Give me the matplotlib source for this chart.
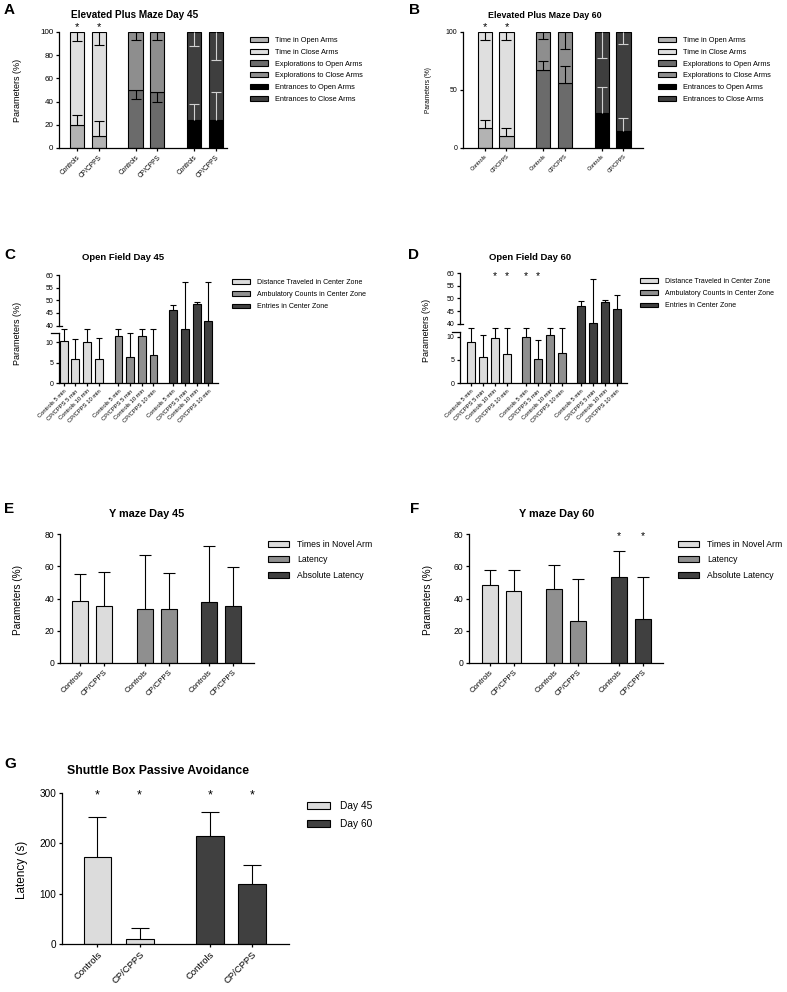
import numpy as np
import matplotlib
matplotlib.use("Agg")
import matplotlib.pyplot as plt
from matplotlib.patches import Patch

plt.rcParams['font.family'] = ['Liberation Sans', 'DejaVu Sans']

# ---------------- DATA ----------------
groups2 = ["Controls", "CP/CPPS"]
of_labels = ["Controls 5 min", "CP/CPPS 5 min", "Controls 10 min", "CP/CPPS 10 min"]

# Elevated plus maze (stacked, % of total) - order: Time, Explorations, Entrances x (Controls, CP/CPPS)
epm_legend = ["Time in Open Arms", "Time in Close Arms", "Explorations to Open Arms",
              "Explorations to Close Arms", "Entrances to Open Arms", "Entrances to Close Arms"]
epm45_open = [20, 10, 50, 48, 24.5, 24]
epm45_open_err = [8.6, 13, -7.7, -8, 13.2, 24.6]      # sign = drawing direction
epm45_close_err = [8, 11.4, 7, 7, 12.3, 24.3]
epm60_open = [17.5, 10, 67.5, 56, 30.5, 15]
epm60_open_err = [6.5, 7.4, 7.1, 14.3, 22, 10.7]
epm60_close_err = [6.6, 7.1, 6.3, 14.6, 22, 10]
epm45_stars = [True, True, False, False, False, False]
epm60_stars = [True, True, False, False, False, False]

# Open field (%)
of_legend = ["Distance Traveled in Center Zone", "Ambulatory Counts in Center Zone", "Entries in Center Zone"]
of45_dist = [10.2, 5.8, 9.9, 5.8]
of45_dist_err = [16, 5.0, 16.3, 5.2]
of45_amb = [11.5, 6.4, 11.4, 6.9]
of45_amb_err = [14.7, 5.9, 14.8, 19.3]
of45_ent = [46.3, 26, 48.5, 41.9]
of45_ent_err = [2.0, 31.3, 1.0, 15.4]
of60_dist = [8.85, 5.6, 9.7, 6.3]
of60_dist_err = [16.6, 4.7, 15.8, 19.2]
of60_amb = [9.9, 5.1, 10.4, 6.5]
of60_amb_err = [15.6, 4.25, 15.1, 19.0]
of60_ent = [47.2, 40.3, 48.6, 45.7]
of60_ent_err = [1.6, 17.5, 0.9, 5.6]
of60_stars = [[False, False, True, True], [True, True, False, False], [False, False, False, False]]

# Y maze (%)
ym_legend = ["Times in Novel Arm", "Latency", "Absolute Latency"]
ym45_vals = [[38.3, 35.2], [33.6, 33.6], [37.8, 35.1]]
ym45_err = [[16.8, 21.3], [33.6, 22.5], [34.8, 24.2]]
ym60_vals = [[48.2, 44.4], [46.2, 26.3], [53.3, 27.4]]
ym60_err = [[9.6, 13.4], [14.3, 25.7], [16.3, 26.2]]
ym60_stars = [[False, False], [False, False], [True, True]]

# Shuttle box (s)
sb_legend = ["Day 45", "Day 60"]
sb_vals = [[173, 10.5], [215, 120]]
sb_err = [[80, 22], [48, 36]]
sb_stars = [[True, True], [True, True]]

# ---------------- STYLE ----------------
W, H = 787, 992
LIGHT, MED, DARK = '#dcdcdc', '#8f8f8f', '#404040'
EPM_COLORS = ['#b3b3b3', '#dfdfdf', '#6b6b6b', '#8e8e8e', '#000000', '#3e3e3e']
EDGE_LW = 0.8

fig = plt.figure(figsize=(W / 100, H / 100), dpi=100)


def add_ax(x0, y0, x1, y1):
    """pixel box: left, top, right, bottom"""
    return fig.add_axes([x0 / W, 1 - y1 / H, (x1 - x0) / W, (y1 - y0) / H])


def style_ax(ax, tick_fs, lw=0.9):
    for s in ['top', 'right']:
        ax.spines[s].set_visible(False)
    for s in ['left', 'bottom']:
        ax.spines[s].set_linewidth(lw)
    ax.tick_params(direction='out', length=2.5, width=lw, labelsize=tick_fs, pad=1.5)


def err_bars(ax, x, base, err, capw, color='black', lw=0.8):
    x = np.asarray(x, float)
    base = np.asarray(base, float)
    err = np.asarray(err, float)
    ax.vlines(x, base, base + err, colors=color, lw=lw, zorder=4)
    ax.plot(x, base + err, linestyle='none', marker='_', ms=capw, mew=lw, color=color, zorder=4)


def star(ax, x, y, center_px, fs):
    """star glyph centred center_px pixels above data point (x, y)"""
    em = fs * 100 / 72
    ax.annotate('*', (x, y), xytext=(0, center_px - 0.57 * em), textcoords='offset pixels',
                ha='center', va='baseline', fontsize=fs, annotation_clip=False)


def fig_text(x, y, s, **kw):
    fig.text(x / W, 1 - y / H, s, **kw)


def legend(ax, handles, labels, x, y, fs, spacing, hl=2.4, hh=0.7):
    ax.legend(handles, labels, loc='upper left', bbox_to_anchor=(x / W, 1 - y / H),
              bbox_transform=fig.transFigure, frameon=False, fontsize=fs,
              handlelength=hl, handleheight=hh, handletextpad=1.0,
              labelspacing=spacing, borderaxespad=0, borderpad=0)


def patch(c):
    return Patch(facecolor=c, edgecolor='black', linewidth=EDGE_LW)


# ---------------- EPM panels ----------------
def epm_panel(box, open_v, open_e, close_e, stars, xlim, yticks, fs, title, tfs, tpos,
              leg_xy, leg_fs, ylab_xy, ylab_fs, xt_fs, star_px, letter, lpos, gap=2.69):
    ax = add_ax(*box)
    style_ax(ax, fs)
    pos = [g * gap + i for g in range(3) for i in range(2)]
    open_v = np.asarray(open_v, float)
    for k, x in enumerate(pos):
        g = k // 2
        ax.bar(x, open_v[k], width=0.66, color=EPM_COLORS[2 * g], edgecolor='black', lw=EDGE_LW, zorder=2)
        ax.bar(x, 100 - open_v[k], bottom=open_v[k], width=0.66, color=EPM_COLORS[2 * g + 1],
               edgecolor='black', lw=EDGE_LW, zorder=2)
        ec = '#d0d0d0' if g == 2 else 'black'
        err_bars(ax, [x], [open_v[k]], [open_e[k]], 7, color=ec)
        err_bars(ax, [x], [100], [-close_e[k]], 7, color=ec)
        if stars[k]:
            star(ax, x, 100, star_px, 8)
    ax.set_xlim(*xlim)
    ax.set_ylim(0, 100)
    ax.set_yticks(yticks)
    ax.set_xticks(pos)
    ax.set_xticklabels(groups2 * 3, rotation=45, ha='right', rotation_mode='anchor', fontsize=xt_fs)
    fig_text(*tpos, title, ha='center', va='baseline', fontsize=tfs, fontweight='bold')
    fig_text(*ylab_xy, 'Parameters (%)', rotation=90, ha='center', va='center', fontsize=ylab_fs)
    fig_text(*lpos, letter, fontsize=11, fontweight='bold', ha='left', va='top')
    legend(ax, [patch(c) for c in EPM_COLORS], epm_legend, *leg_xy, leg_fs, 0.62)
    return ax


epm_panel((59, 32, 227, 148), epm45_open, epm45_open_err, epm45_close_err, epm45_stars,
          (-0.83, 6.9), [0, 20, 40, 60, 80, 100], 5.8, 'Elevated Plus Maze Day 45', 7.2, (135, 17.7),
          (250, 37), 5.3, (17, 90), 6.5, 4.8, 8.5, 'A', (4, 3))
epm_panel((463, 32, 643, 148), epm60_open, epm60_open_err, epm60_close_err, epm60_stars,
          (-1.0, 7.28), [0, 50, 100], 5.0, 'Elevated Plus Maze Day 60', 6.4, (545, 17.5),
          (658, 37), 5.3, (428, 90), 4.7, 4.0, 8, 'B', (409, 3))


# ---------------- Open field panels (broken axis) ----------------
def broken(b1, lo_px, gap_px, hi_px, b2=40.0):
    u1 = b1 * lo_px
    u2 = u1 + gap_px

    def fwd(v):
        v = np.asarray(v, float)
        return np.where(v <= b1, v * lo_px,
                        np.where(v < b2, u1 + (v - b1) / (b2 - b1) * gap_px, u2 + (v - b2) * hi_px))

    def inv(u):
        u = np.asarray(u, float)
        return np.where(u <= u1, u / lo_px,
                        np.where(u < u2, b1 + (u - u1) / gap_px * (b2 - b1), b2 + (u - u2) / hi_px))
    return fwd, inv


def of_panel(box, series, errs, stars, xlim, gap, scale, b1, title, tpos, leg_xy, ylab_xy, letter, lpos):
    ax = add_ax(*box)
    style_ax(ax, 5.0)
    fwd, inv = broken(*scale)
    ax.set_yscale('function', functions=(fwd, inv))
    colors = [LIGHT, MED, DARK]
    allpos = []
    for g, (vals, er) in enumerate(zip(series, errs)):
        pos = [g * gap + i for i in range(4)]
        allpos += pos
        ax.bar(pos, vals, width=0.68, color=colors[g], edgecolor='black', lw=EDGE_LW, zorder=2)
        err_bars(ax, pos, vals, er, 5)
        for x, s in zip(pos, stars[g]):
            if s:
                star(ax, x, 60, 0, 7.5)
    ax.set_xlim(*xlim)
    ax.set_ylim(0, 60)
    ax.set_yticks([0, 5, 10, 40, 45, 50, 55, 60])
    ax.spines['left'].set_bounds(0, b1)
    yt = ax.get_yaxis_transform()
    ax.plot([0, 0], [40, 60], transform=yt, color='black', lw=0.9, clip_on=False)
    ax.plot([-0.05, 0], [b1, b1], transform=yt, color='black', lw=0.9, clip_on=False)
    ax.plot([0, 0.02], [40, 40], transform=yt, color='black', lw=0.9, clip_on=False)
    ax.set_xticks(allpos)
    ax.set_xticklabels(of_labels * 3, rotation=45, ha='right', rotation_mode='anchor', fontsize=4.2)
    fig_text(*tpos, title, ha='center', va='center', fontsize=6.8, fontweight='bold')
    fig_text(*ylab_xy, 'Parameters (%)', rotation=90, ha='center', va='center', fontsize=6.5)
    fig_text(*lpos, letter, fontsize=11, fontweight='bold', ha='left', va='top')
    legend(ax, [patch(c) for c in colors], of_legend, *leg_xy, 5.0, 0.75, hl=2.6)


of_panel((59, 275, 218, 383), [of45_dist, of45_amb, of45_ent], [of45_dist_err, of45_amb_err, of45_ent_err],
         [[False] * 4] * 3, (-0.4, 13.23), 4.7, (12.3, 4.1, 7.0, 2.53), 12.3,
         'Open Field Day 45', (123, 258), (232, 279), (17, 333), 'C', (4, 248))
of_panel((460, 273, 627, 383), [of60_dist, of60_amb, of60_ent], [of60_dist_err, of60_amb_err, of60_ent_err],
         of60_stars, (-0.89, 13.05), 4.61, (11.0, 4.63, 8.0, 2.53), 11.0,
         'Open Field Day 60', (530, 258), (640, 278), (427, 330), 'D', (408, 248))


# ---------------- Y maze / shuttle box panels ----------------
def simple_panel(box, vals, errs, stars, legend_labels, colors, xlim, gap, yticks, ylim, tick_fs, xt_fs,
                 title, tfs, tpos, leg_xy, leg_fs, leg_sp, ylab, ylab_xy, ylab_fs, capw, star_px, star_fs,
                 letter, lpos, hl=2.4):
    ax = add_ax(*box)
    style_ax(ax, tick_fs)
    allpos = []
    for g in range(len(vals)):
        pos = [g * gap + i for i in range(len(vals[g]))]
        allpos += pos
        ax.bar(pos, vals[g], width=0.66, color=colors[g], edgecolor='black', lw=EDGE_LW, zorder=2)
        err_bars(ax, pos, vals[g], errs[g], capw)
        for x, s in zip(pos, stars[g]):
            if s:
                star(ax, x, ylim[1], star_px, star_fs)
    ax.set_xlim(*xlim)
    ax.set_ylim(*ylim)
    ax.set_yticks(yticks)
    ax.set_xticks(allpos)
    ax.set_xticklabels(groups2 * len(vals), rotation=45, ha='right', rotation_mode='anchor', fontsize=xt_fs)
    fig_text(*tpos, title, ha='center', va='center', fontsize=tfs, fontweight='bold')
    fig_text(*ylab_xy, ylab, rotation=90, ha='center', va='center', fontsize=ylab_fs)
    fig_text(*lpos, letter, fontsize=11, fontweight='bold', ha='left', va='top')
    legend(ax, [patch(c) for c in colors], legend_labels, *leg_xy, leg_fs, leg_sp, hl=hl)


simple_panel((60, 534, 254, 663), ym45_vals, ym45_err, [[False, False]] * 3, ym_legend, [LIGHT, MED, DARK],
             (-0.85, 7.24), 2.68, [0, 20, 40, 60, 80], (0, 80), 6.2, 5.6,
             'Y maze Day 45', 7.8, (147, 514), (268, 540), 6.2, 0.75, 'Parameters (%)', (18, 600), 7.2, 8,
             1.3, 7.5, 'E', (4, 502))
simple_panel((469, 534, 663, 663), ym60_vals, ym60_err, ym60_stars, ym_legend, [LIGHT, MED, DARK],
             (-0.86, 7.24), 2.7, [0, 20, 40, 60, 80], (0, 80), 6.2, 5.6,
             'Y maze Day 60', 7.8, (557, 514), (678, 540), 6.2, 0.75, 'Parameters (%)', (428, 600), 7.2, 8,
             1.3, 7.5, 'F', (410, 502))

simple_panel((62, 793, 289, 944), sb_vals, sb_err, sb_stars, sb_legend, [LIGHT, DARK],
             (-0.84, 4.54), 2.67, [0, 100, 200, 300], (0, 300), 7.2, 6.8,
             'Shuttle Box Passive Avoidance', 8.8, (158, 771), (307, 801), 7.3, 0.8, 'Latency (s)', (22, 870),
             8.5, 13, 1.3, 9, 'G', (4, 757), hl=2.3)

fig.savefig('out.png', dpi=100)
